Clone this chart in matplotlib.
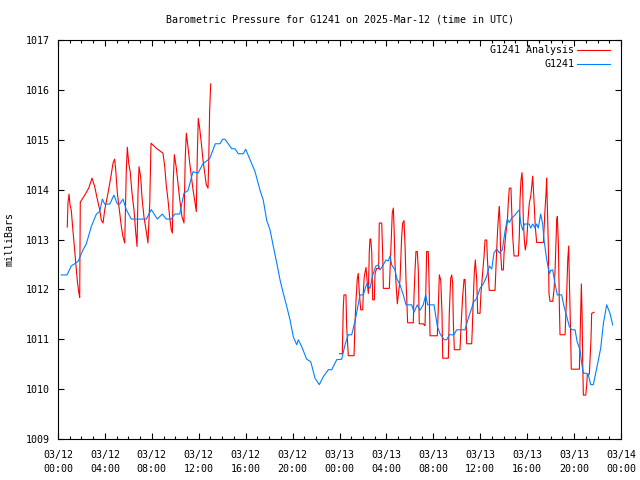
import numpy as np
import pandas as pd
import matplotlib
matplotlib.use("Agg")
import matplotlib.pyplot as plt
import matplotlib.dates as mdates

# ==============================
# DATA (hours after 2025-03-12 00:00 UTC, pressure in mb)
# ==============================

start = pd.Timestamp("2025-03-12 00:00")

# G1241 Analysis (red) - NaN marks the gap with no analysis values
analysis_hours = [
    0.79, 0.85, 0.94, 1.02, 1.13, 1.28, 1.42, 1.56, 1.65, 1.76, 1.85, 1.90,
    2.28, 2.62, 2.90, 3.13, 3.35, 3.56, 3.69, 3.84, 3.98, 4.26, 4.49, 4.69,
    4.83, 4.92, 5.06, 5.26, 5.40, 5.54, 5.69, 5.82, 5.91, 6.03, 6.16, 6.31,
    6.48, 6.62, 6.74, 6.82, 6.91, 7.05, 7.16, 7.33, 7.53, 7.67, 7.82, 7.93,
    8.38, 8.95, 9.10, 9.23, 9.38, 9.52, 9.66, 9.75, 9.83, 9.92, 10.09, 10.23,
    10.38, 10.57, 10.74, 10.85, 10.94, 11.08, 11.23, 11.37, 11.51, 11.65,
    11.79, 11.88, 11.96, 12.08, 12.22, 12.36, 12.51, 12.64, 12.79, 12.85,
    12.93, 13.02,
    18.0,
    24.00, 24.24, 24.32, 24.38, 24.55, 24.61, 24.75, 25.24, 25.32, 25.41,
    25.52, 25.60, 25.69, 25.81, 25.98, 26.03, 26.11, 26.26, 26.37, 26.46,
    26.54, 26.60, 26.66, 26.75, 26.83, 26.97, 27.03, 27.17, 27.34, 27.39,
    27.60, 27.68, 27.74, 28.25, 28.37, 28.45, 28.50, 28.59, 28.65, 28.73,
    28.82, 28.93, 29.16, 29.30, 29.39, 29.50, 29.59, 29.67, 29.78, 29.81,
    30.29, 30.35, 30.44, 30.52, 30.63, 30.72, 30.80, 31.14, 31.29, 31.35,
    31.43, 31.57, 31.63, 31.72, 32.34, 32.42, 32.51, 32.63, 32.74, 32.80,
    33.28, 33.36, 33.48, 33.57, 33.65, 33.70, 33.79, 34.27, 34.42, 34.50,
    34.62, 34.70, 34.76, 34.84, 35.27, 35.32, 35.40, 35.49, 35.58, 35.70,
    35.78, 35.98, 36.06, 36.21, 36.32, 36.41, 36.55, 36.60, 36.69, 36.77,
    37.26, 37.34, 37.40, 37.49, 37.57, 37.63, 37.68, 37.74, 37.83, 37.97,
    38.03, 38.20, 38.31, 38.39, 38.48, 38.62, 38.68, 38.77, 38.88, 39.25,
    39.33, 39.39, 39.47, 39.56, 39.62, 39.67, 39.76, 39.84, 39.96, 40.05,
    40.18, 40.30, 40.39, 40.47, 40.52, 40.61, 40.69, 40.81, 41.38, 41.52,
    41.61, 41.66, 41.72, 41.80, 41.86, 41.95, 42.18, 42.29, 42.37, 42.46,
    42.52, 42.57, 42.66, 42.74, 42.80, 43.23, 43.37, 43.46, 43.54, 43.59,
    43.71, 43.76, 44.45, 44.51, 44.57, 44.62, 44.68, 44.73, 44.79, 44.99,
    45.07, 45.13, 45.30, 45.36, 45.44, 45.50, 45.70,
]
analysis_mb = [
    1013.25, 1013.73, 1013.91, 1013.70, 1013.59, 1013.16, 1012.79, 1012.39,
    1012.16, 1011.96, 1011.84, 1013.75, 1013.89, 1014.03, 1014.23, 1014.06,
    1013.81, 1013.59, 1013.39, 1013.33, 1013.59, 1013.93, 1014.23, 1014.53,
    1014.61, 1014.40, 1013.93, 1013.53, 1013.26, 1013.06, 1012.93, 1014.36,
    1014.85, 1014.53, 1014.35, 1013.93, 1013.59, 1013.16, 1012.86, 1013.93,
    1014.46, 1014.25, 1013.85, 1013.45, 1013.16, 1012.93, 1013.72, 1014.93,
    1014.83, 1014.73, 1014.46, 1014.09, 1013.79, 1013.45, 1013.19, 1013.13,
    1014.20, 1014.70, 1014.43, 1014.13, 1013.80, 1013.46, 1013.33, 1014.65,
    1015.13, 1014.86, 1014.53, 1014.26, 1014.00, 1013.79, 1013.56, 1014.73,
    1015.43, 1015.23, 1014.93, 1014.60, 1014.33, 1014.10, 1014.03, 1014.55,
    1015.60, 1016.12,
    np.nan,
    1010.71, 1010.71, 1011.62, 1011.89, 1011.89, 1011.26, 1010.67, 1010.67,
    1011.32, 1011.79, 1012.22, 1012.32, 1011.93, 1011.59, 1011.59, 1011.93,
    1012.26, 1012.44, 1012.12, 1011.92, 1012.76, 1013.01, 1013.01, 1012.75,
    1011.79, 1011.79, 1012.32, 1012.42, 1012.42, 1013.33, 1013.33, 1012.71,
    1012.02, 1012.02, 1012.76, 1013.30, 1013.53, 1013.63, 1013.26, 1012.52,
    1012.12, 1011.71, 1012.19, 1013.06, 1013.33, 1013.38, 1012.86, 1012.19,
    1011.54, 1011.33, 1011.33, 1011.86, 1012.39, 1012.76, 1012.76, 1012.39,
    1011.31, 1011.31, 1011.27, 1011.86, 1012.76, 1012.76, 1012.19, 1011.07,
    1011.07, 1011.60, 1012.29, 1012.19, 1011.52, 1010.62, 1010.62, 1011.52,
    1012.22, 1012.29, 1012.12, 1011.39, 1010.79, 1010.79, 1011.52, 1011.86,
    1012.20, 1012.20, 1011.86, 1010.91, 1010.91, 1011.19, 1011.76, 1012.32,
    1012.59, 1012.19, 1011.52, 1011.52, 1011.92, 1012.36, 1012.66, 1012.99,
    1012.99, 1012.66, 1012.26, 1011.98, 1011.98, 1012.46, 1012.79, 1013.23,
    1013.51, 1013.66, 1013.33, 1012.73, 1012.39, 1012.39, 1012.73, 1013.16,
    1013.36, 1013.73, 1014.03, 1014.03, 1013.59, 1013.05, 1012.67, 1012.67,
    1013.07, 1013.80, 1014.18, 1014.34, 1014.06, 1013.39, 1012.99, 1012.79,
    1012.96, 1013.33, 1013.73, 1013.86, 1014.06, 1014.27, 1014.06, 1013.66,
    1013.26, 1012.94, 1012.94, 1013.59, 1013.93, 1014.23, 1013.66, 1012.93,
    1011.92, 1011.76, 1011.76, 1011.99, 1012.33, 1012.93, 1013.39, 1013.46,
    1012.93, 1011.72, 1011.09, 1011.09, 1011.92, 1012.59, 1012.87, 1012.26,
    1011.05, 1010.40, 1010.40, 1011.00, 1011.66, 1012.11, 1011.52, 1010.60,
    1009.88, 1009.88, 1010.05, 1010.30, 1010.30, 1010.59, 1010.99, 1011.52,
    1011.54,
]

# G1241 observations (blue)
obs_hours = [
    0.28, 0.77, 1.13, 1.71, 2.13, 2.41, 2.84, 3.27, 3.56, 3.78, 3.98, 4.41,
    4.77, 5.06, 5.26, 5.54, 5.82, 6.25, 7.53, 7.95, 8.47, 8.89, 9.23, 9.66,
    9.95, 10.38, 10.74, 11.08, 11.51, 11.94, 12.36, 12.93, 13.41, 13.81,
    14.04, 14.24, 14.81, 15.09, 15.37, 15.80, 16.00, 16.37, 16.80, 17.22,
    17.50, 17.79, 18.08, 18.36, 18.65, 18.93, 19.21, 19.50, 19.78, 20.06,
    20.35, 20.49, 20.78, 21.20, 21.55, 21.91, 22.28, 22.62, 23.05, 23.34,
    23.76, 24.19, 24.47, 24.75, 25.04, 25.32, 25.47, 25.75, 26.03, 26.32,
    26.60, 26.83, 27.11, 27.31, 27.45, 27.73, 27.96, 28.16, 28.31, 28.45,
    28.73, 28.88, 29.16, 29.44, 29.67, 30.16, 30.35, 30.63, 30.86, 31.14,
    31.35, 31.52, 32.06, 32.34, 32.57, 32.93, 33.14, 33.36, 33.76, 33.99,
    34.70, 34.98, 35.27, 35.41, 35.70, 35.98, 36.26, 36.55, 36.77, 36.98,
    37.17, 37.40, 37.63, 37.88, 38.11, 38.31, 38.48, 38.68, 38.96, 39.19,
    39.33, 39.45, 39.62, 39.76, 40.18, 40.30, 40.47, 40.67, 40.81, 40.95,
    41.15, 41.32, 41.44, 41.61, 41.72, 41.89, 42.01, 42.18, 42.37, 42.57,
    42.94, 43.14, 43.37, 43.59, 43.80, 44.08, 44.27, 44.51, 44.65, 44.79,
    44.99, 45.21, 45.42, 45.64, 45.93, 46.27, 46.50, 46.78, 47.06, 47.29,
]
obs_mb = [
    1012.29, 1012.29, 1012.47, 1012.56, 1012.79, 1012.91, 1013.26, 1013.51,
    1013.56, 1013.81, 1013.71, 1013.71, 1013.89, 1013.71, 1013.71, 1013.81,
    1013.60, 1013.41, 1013.41, 1013.60, 1013.41, 1013.51, 1013.41, 1013.41,
    1013.51, 1013.51, 1013.93, 1013.98, 1014.36, 1014.33, 1014.52, 1014.62,
    1014.92, 1014.92, 1015.01, 1015.01, 1014.82, 1014.82, 1014.72, 1014.72,
    1014.81, 1014.60, 1014.36, 1013.99, 1013.79, 1013.39, 1013.19, 1012.86,
    1012.53, 1012.19, 1011.92, 1011.66, 1011.39, 1011.05, 1010.89, 1010.99,
    1010.85, 1010.60, 1010.55, 1010.22, 1010.09, 1010.25, 1010.39, 1010.39,
    1010.59, 1010.60, 1010.89, 1011.09, 1011.09, 1011.36, 1011.54, 1011.89,
    1011.89, 1012.11, 1012.02, 1012.29, 1012.47, 1012.49, 1012.39, 1012.49,
    1012.59, 1012.57, 1012.67, 1012.49, 1012.39, 1012.22, 1012.09, 1011.89,
    1011.69, 1011.69, 1011.54, 1011.69, 1011.58, 1011.69, 1011.89, 1011.69,
    1011.69, 1011.26, 1011.11, 1010.99, 1010.99, 1011.09, 1011.09, 1011.19,
    1011.19, 1011.42, 1011.62, 1011.74, 1011.82, 1012.02, 1012.11, 1012.26,
    1012.47, 1012.41, 1012.73, 1012.81, 1012.73, 1012.79, 1013.16, 1013.41,
    1013.34, 1013.43, 1013.49, 1013.56, 1013.59, 1013.33, 1013.19, 1013.31,
    1013.31, 1013.23, 1013.31, 1013.23, 1013.31, 1013.23, 1013.51, 1013.31,
    1012.99, 1012.69, 1012.53, 1012.31, 1012.38, 1012.39, 1012.12, 1011.89,
    1011.89, 1011.66, 1011.46, 1011.26, 1011.19, 1011.19, 1010.94, 1010.79,
    1010.52, 1010.32, 1010.32, 1010.29, 1010.09, 1010.09, 1010.42, 1010.82,
    1011.32, 1011.69, 1011.52, 1011.29,
]

title = "Barometric Pressure for G1241 on 2025-Mar-12 (time in UTC)"

analysis_time = start + pd.to_timedelta(analysis_hours, unit="h")
obs_time = start + pd.to_timedelta(obs_hours, unit="h")

# ==============================
# PLOT
# ==============================

plt.rcParams["font.family"] = "DejaVu Sans Mono"
plt.rcParams["font.size"] = 7.2

fig = plt.figure(figsize=(6.4, 4.8), dpi=100)
ax = fig.add_axes([58 / 640, 41 / 480, 563 / 640, 399 / 480])

ax.plot(analysis_time, analysis_mb, color="#ff0000", lw=0.8,
        label="G1241 Analysis")
ax.plot(obs_time, obs_mb, color="#0080ff", lw=0.8, label="G1241")

ax.set_xlim(start, start + pd.Timedelta(hours=48))
ax.set_ylim(1009, 1017)
ax.set_yticks(range(1009, 1018))

ax.xaxis.set_major_locator(mdates.HourLocator(byhour=range(0, 24, 4)))
ax.xaxis.set_minor_locator(mdates.HourLocator())
ax.xaxis.set_major_formatter(mdates.DateFormatter("%m/%d\n%H:%M"))
for lbl in ax.get_xticklabels():
    lbl.set_linespacing(1.45)

ax.tick_params(which="both", direction="in", top=True, right=True, width=0.8)
ax.tick_params(which="major", length=4.5)
ax.tick_params(which="minor", length=2.5)
ax.tick_params(axis="x", which="major", pad=8)
ax.tick_params(axis="y", which="major", pad=6)
for s in ax.spines.values():
    s.set_linewidth(0.8)

ax.set_title(title, fontsize=7.2, pad=12.5)
ax.set_ylabel("milliBars", labelpad=8)

ax.legend(loc="upper right", bbox_to_anchor=(0.9876, 0.997),
          markerfirst=False, frameon=False, borderaxespad=0,
          handlelength=3.3, handletextpad=0.3, labelspacing=0.4)

plt.savefig("out.png", dpi=100)
